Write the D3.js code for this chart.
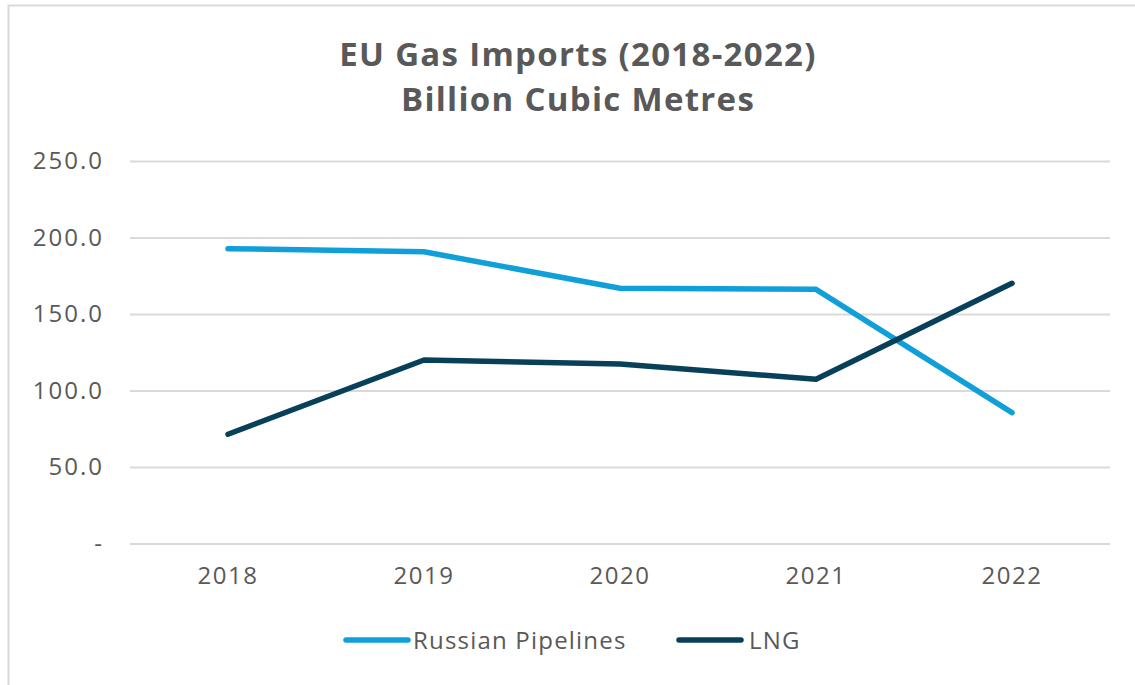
<!DOCTYPE html>
<html>
<head>
<meta charset="utf-8">
<script src="https://cdn.jsdelivr.net/npm/d3@7"></script>
<style>
  html, body { margin: 0; padding: 0; background: #ffffff; }
  svg { display: block; }
  text { font-family: "Open Sans", "Lato", sans-serif; fill: #595959; }
</style>
</head>
<body>
<svg id="chart" width="1135" height="685"></svg>
<script>
// EU gas imports, billion cubic metres
const years = ["2018", "2019", "2020", "2021", "2022"];
const russianPipelines = [192.7, 190.7, 166.8, 166.1, 85.5];
const lng = [71.4, 119.9, 117.3, 107.3, 170.1];
const yTicks = [0, 50, 100, 150, 200, 250];
const seriesNames = ["Russian Pipelines", "LNG"];
const seriesColors = ["#119fd9", "#08405a"];

const svg = d3.select("#chart");
const W = 1135, H = 685;
const margin = { left: 130, right: 25, top: 161, bottom: 141.5 };

// outer frame
svg.append("rect")
  .attr("x", 8.5).attr("y", 5.5)
  .attr("width", W + 10).attr("height", H + 10)
  .attr("fill", "#fff").attr("stroke", "#d9d9d9").attr("stroke-width", 2);

// titles
["EU Gas Imports (2018-2022)", "Billion Cubic Metres"].forEach((t, i) => {
  svg.append("text")
    .attr("x", 578).attr("y", 66 + i * 45)
    .attr("text-anchor", "middle")
    .style("font-size", "33px").style("font-weight", "700")
    .style("letter-spacing", "1.3px")
    .text(t);
});

const x = d3.scaleBand()
  .domain(years)
  .range([margin.left, W - margin.right]);
const y = d3.scaleLinear()
  .domain([0, 250])
  .range([H - margin.bottom, margin.top]);

// horizontal gridlines + y labels
const yAxis = d3.axisLeft(y)
  .tickValues(yTicks)
  .tickSize(-(W - margin.right - margin.left))
  .tickPadding(26)
  .tickFormat(d => d === 0 ? "-" : d3.format(".1f")(d));
const gy = svg.append("g")
  .attr("transform", `translate(${margin.left},0)`)
  .call(yAxis);
gy.select(".domain").remove();
gy.selectAll(".tick line").attr("stroke", "#d9d9d9").attr("stroke-width", 2);
gy.selectAll(".tick text")
  .style("font-size", "24px").style("letter-spacing", "2px")
  .attr("fill", "#595959");

// x labels
const xAxis = d3.axisBottom(x).tickSize(0).tickPadding(23);
const gx = svg.append("g")
  .attr("transform", `translate(0,${H - margin.bottom})`)
  .call(xAxis);
gx.select(".domain").remove();
gx.selectAll(".tick text")
  .style("font-size", "24px").style("letter-spacing", "1.5px")
  .attr("fill", "#595959");

// lines
const line = d3.line()
  .x((d, i) => x(years[i]) + x.bandwidth() / 2)
  .y(d => y(d));
[russianPipelines, lng].forEach((vals, k) => {
  svg.append("path")
    .datum(vals)
    .attr("d", line)
    .attr("fill", "none")
    .attr("stroke", seriesColors[k])
    .attr("stroke-width", 5.5)
    .attr("stroke-linecap", "round")
    .attr("stroke-linejoin", "round");
});

// legend
const legendItems = [
  { name: seriesNames[0], color: seriesColors[0], x0: 346, x1: 408, tx: 413 },
  { name: seriesNames[1], color: seriesColors[1], x0: 679, x1: 741, tx: 749 }
];
const ly = 640;
legendItems.forEach(it => {
  svg.append("line")
    .attr("x1", it.x0).attr("x2", it.x1)
    .attr("y1", ly).attr("y2", ly)
    .attr("stroke", it.color).attr("stroke-width", 5.5)
    .attr("stroke-linecap", "round");
  svg.append("text")
    .attr("x", it.tx).attr("y", ly + 9)
    .style("font-size", "24px").style("letter-spacing", "1.2px")
    .text(it.name);
});
</script>
</body>
</html>
